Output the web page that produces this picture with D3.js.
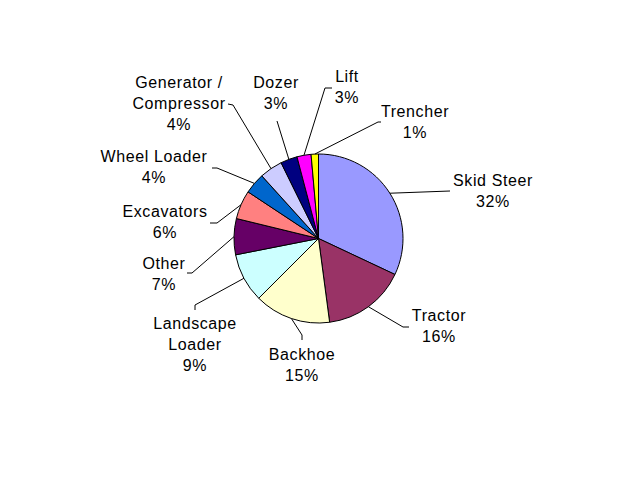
<!DOCTYPE html>
<html>
<head>
<meta charset="utf-8">
<script src="https://cdn.jsdelivr.net/npm/d3@7"></script>
<style>
  html, body { margin: 0; padding: 0; background: #fff; }
  svg { display: block; }
  .label { font-family: "Liberation Sans", Arial, sans-serif; font-size: 16px; letter-spacing: 0.6px; fill: #000; }
</style>
</head>
<body>
<svg id="chart"></svg>
<script>
// Equipment share (percent), clockwise from 12 o'clock
const categories = ['Skid Steer', 'Tractor', 'Backhoe', 'Landscape\nLoader', 'Other', 'Excavators',
  'Wheel Loader', 'Generator /\nCompressor', 'Dozer', 'Lift', 'Trencher'];
const shares = [32.0, 15.9, 14.6, 9.4, 6.9, 5.5, 4.0, 4.4, 3.2, 2.7, 1.4];
const colors = ['#9999FF', '#993366', '#FFFFCC', '#CCFFFF', '#660066', '#FF8080',
  '#0066CC', '#CCCCFF', '#000080', '#FF00FF', '#FFFF00'];

// Label placement (text centre x, first baseline y) and leader line bends
const labelPos = [[493, 186], [439, 321], [302, 360], [195, 329], [164, 269], [165, 217],
  [154, 162], [179, 88], [276, 88], [347, 82], [415, 117]];
const leaderPts = [
  [[450, 191]],
  [[403, 327], [409, 327]],
  [[302, 335], [302, 340]],
  [[195, 305], [195, 310]],
  [[192, 273], [187, 273]],
  [[217, 223], [210, 223]],
  [[217, 168], [212, 168]],
  [[233, 105], [228, 104]],
  [[277, 121]],
  [[325, 88], [332, 88]],
  [[378, 122], [381, 122]]
];

const width = 640, height = 480;
const cx = 318.5, cy = 238.5, radius = 84.5;
const lineHeight = 21;

const svg = d3.select('#chart').attr('width', width).attr('height', height);
const g = svg.append('g').attr('transform', `translate(${cx},${cy})`);

const data = categories.map((name, i) => ({ name, value: shares[i], color: colors[i] }));

const pie = d3.pie().sort(null).value(d => d.value).startAngle(0).endAngle(2 * Math.PI);
const arcs = pie(data);
const arc = d3.arc().innerRadius(0).outerRadius(radius);

// Slices
g.selectAll('path.slice')
  .data(arcs)
  .enter()
  .append('path')
  .attr('class', 'slice')
  .attr('d', arc)
  .attr('fill', d => d.data.color)
  .attr('stroke', '#000')
  .attr('stroke-width', 1)
  .attr('stroke-linejoin', 'round');

// Leader lines: from slice edge at mid angle to label
const edgeArc = d3.arc().innerRadius(radius).outerRadius(radius);
const line = d3.line();
svg.selectAll('path.leader')
  .data(arcs)
  .enter()
  .append('path')
  .attr('class', 'leader')
  .attr('d', (d, i) => {
    const mid = (d.startAngle + d.endAngle) / 2;
    const start = [cx + Math.sin(mid) * radius, cy - Math.cos(mid) * radius];
    return line([start, ...leaderPts[i]]);
  })
  .attr('fill', 'none')
  .attr('stroke', '#000')
  .attr('stroke-width', 1);

// Labels
const fmt = v => `${Math.round(v)}%`;
svg.selectAll('text.label')
  .data(arcs)
  .enter()
  .append('text')
  .attr('class', 'label')
  .attr('text-anchor', 'middle')
  .attr('x', (d, i) => labelPos[i][0])
  .attr('y', (d, i) => labelPos[i][1])
  .each(function (d, i) {
    const lines = d.data.name.split('\n').concat(fmt(d.data.value));
    d3.select(this).selectAll('tspan')
      .data(lines)
      .enter()
      .append('tspan')
      .attr('x', labelPos[i][0])
      .attr('dy', (t, j) => j === 0 ? 0 : lineHeight)
      .text(t => t);
  });
</script>
</body>
</html>
